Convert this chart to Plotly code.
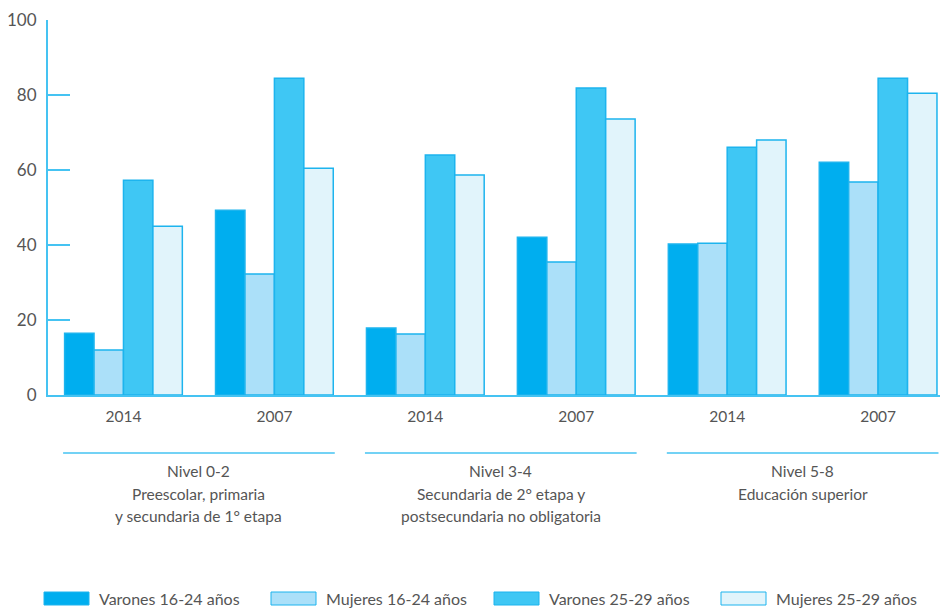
import plotly.graph_objects as go

# data
years = ["2014", "2007", "2014", "2007", "2014", "2007"]
niveles = ["Nivel 0-2", "Nivel 3-4", "Nivel 5-8"]
nivel_desc = [
    ["Preescolar, primaria", "y secundaria de 1° etapa"],
    ["Secundaria de 2° etapa y", "postsecundaria no obligatoria"],
    ["Educación superior"],
]
series_names = ["Varones 16-24 años", "Mujeres 16-24 años", "Varones 25-29 años", "Mujeres 25-29 años"]
varones_16_24 = [16.5, 49.3, 17.9, 42.1, 40.3, 62.1]
mujeres_16_24 = [12.0, 32.3, 16.3, 35.5, 40.5, 56.8]
varones_25_29 = [57.3, 84.5, 64.0, 81.9, 66.1, 84.5]
mujeres_25_29 = [45.0, 60.5, 58.7, 73.6, 68.0, 80.5]

colors = ["#00AEEF", "#ABE0F9", "#3FC7F4", "#E1F4FB"]
line_col = "#1DB4EE"
axis_col = "#45C3F2"
text_col = "#555555"
font_family = "Lato, Open Sans, sans-serif"

x = list(range(len(years)))
values = [varones_16_24, mujeres_16_24, varones_25_29, mujeres_25_29]

fig = go.Figure()
for name, vals, col in zip(series_names, values, colors):
    fig.add_trace(go.Bar(
        x=x, y=vals, name=name,
        marker=dict(color=col, line=dict(color=line_col, width=1.5)),
        showlegend=False,
    ))

shapes = []
annotations = []


def py(pix):
    # pixel row -> paper y (plot area spans rows 20..395)
    return (395 - pix) / 375


def px_(pix):
    # pixel column -> paper x (plot area spans columns 48..940)
    return (pix - 48) / 892


# group brackets under the x axis
for i, (nivel, desc) in enumerate(zip(niveles, nivel_desc)):
    c = 2 * i + 0.5
    shapes.append(dict(type="line", xref="x", yref="paper",
                       x0=c - 0.9, x1=c + 0.9, y0=py(453), y1=py(453),
                       line=dict(color=axis_col, width=1.5)))
    for j, line in enumerate([nivel] + desc):
        annotations.append(dict(xref="x", yref="paper", x=c, y=py(471 + 22.5 * j),
                                text=line, showarrow=False,
                                yanchor="middle", xanchor="center",
                                font=dict(size=15.5, color=text_col, family=font_family)))

# legend drawn by hand (wide swatches)
leg_x = [44, 271, 494, 721]
for name, col, lx in zip(series_names, colors, leg_x):
    shapes.append(dict(type="rect", xref="paper", yref="paper",
                       x0=px_(lx), x1=px_(lx + 45),
                       y0=py(592), y1=py(605),
                       fillcolor=col, line=dict(color=line_col, width=1)))
    annotations.append(dict(xref="paper", yref="paper",
                            x=px_(lx + 53), y=py(598.5),
                            text=name, showarrow=False, xanchor="left", yanchor="middle",
                            font=dict(size=16, color=text_col, family=font_family)))

fig.update_layout(
    width=943, height=609,
    margin=dict(l=48, r=3, t=20, b=214),
    plot_bgcolor="white", paper_bgcolor="white",
    barmode="group", bargap=0.22, bargroupgap=0.0,
    font=dict(family=font_family, size=15, color=text_col),
    shapes=shapes, annotations=annotations,
    xaxis=dict(range=[-0.5, 5.41], tickvals=x, ticktext=years,
               showline=True, linecolor=axis_col, linewidth=2,
               showgrid=False, zeroline=False, ticks="", ticklabelstandoff=6,
               tickfont=dict(size=15.5)),
    yaxis=dict(range=[0, 100], tickvals=[0, 20, 40, 60, 80, 100],
               showline=True, linecolor=axis_col, linewidth=2,
               showgrid=False, zeroline=False,
               ticks="inside", ticklen=22, tickcolor=axis_col, tickwidth=2,
               ticklabelstandoff=6, tickfont=dict(size=17)),
)

# drop the default page margin so the figure sits at the window's corner
fig.write_html("out.html", config={"displayModeBar": False},
               post_script="document.body.style.margin='0';")
